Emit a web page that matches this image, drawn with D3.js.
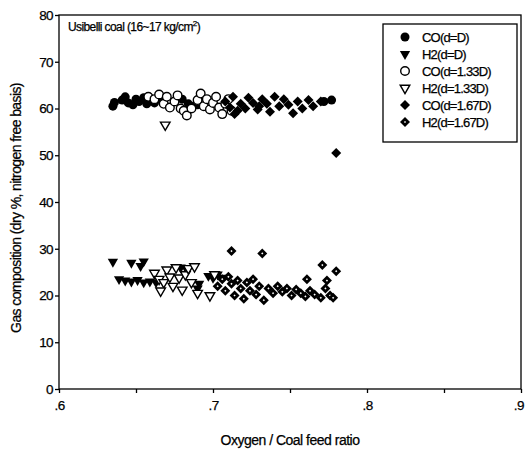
<!DOCTYPE html>
<html><head><meta charset="utf-8">
<script src="https://cdn.jsdelivr.net/npm/d3@7"></script>
<style>
body{margin:0;background:#fff;}
text{font-family:"Liberation Sans",Arial,sans-serif;fill:#000;stroke:#000;stroke-width:0.25px;}
</style></head>
<body><svg id="c" width="525" height="455"></svg>
<script>
// ---- data ----
const xTicks = [0.6, 0.7, 0.8, 0.9];
const xTickLabels = [".6", ".7", ".8", ".9"];
const yTicks = [0, 10, 20, 30, 40, 50, 60, 70, 80];

const CO_D = [[0.635,60.5],[0.636,61.3],[0.641,61.8],[0.643,62.5],[0.645,61.2],[0.648,60.8],[0.650,62.0],[0.652,61.5],[0.655,62.3],[0.657,61.0],[0.659,61.8],[0.662,61.2],[0.666,62.0],[0.680,62.0],[0.684,61.0],[0.687,60.5],[0.690,60.8],[0.772,61.5],[0.777,61.8]];
const H2_D = [[0.635,27.2],[0.647,27.0],[0.655,27.3],[0.653,26.3],[0.639,23.5],[0.643,23.2],[0.647,23.0],[0.651,23.3],[0.655,22.8],[0.659,23.0],[0.663,22.8],[0.679,26.0],[0.683,25.5],[0.690,21.5],[0.691,22.5],[0.697,24.2],[0.700,23.8],[0.703,24.5],[0.706,23.8]];
const CO_133 = [[0.658,62.5],[0.662,62.0],[0.665,63.0],[0.668,61.0],[0.670,62.5],[0.672,60.2],[0.675,61.5],[0.677,62.8],[0.679,60.0],[0.681,59.5],[0.683,58.5],[0.686,60.0],[0.690,61.8],[0.692,63.2],[0.694,60.5],[0.696,62.0],[0.698,59.8],[0.700,61.2],[0.702,62.5],[0.704,60.2],[0.706,58.8],[0.708,61.0],[0.710,62.0],[0.712,59.5]];
const H2_133 = [[0.669,56.5],[0.662,24.8],[0.665,23.5],[0.668,22.8],[0.670,25.5],[0.672,24.0],[0.674,22.0],[0.676,26.0],[0.678,23.8],[0.680,21.2],[0.682,24.5],[0.684,25.8],[0.686,22.8],[0.688,26.2],[0.690,20.5],[0.666,21.0],[0.698,20.0],[0.701,24.5]];
const CO_167 = [[0.708,61.5],[0.711,60.2],[0.713,62.5],[0.714,58.8],[0.716,59.5],[0.718,61.0],[0.721,60.0],[0.723,62.3],[0.726,61.2],[0.729,59.8],[0.730,60.5],[0.732,62.0],[0.735,61.0],[0.737,59.3],[0.740,62.5],[0.743,60.5],[0.746,62.0],[0.749,60.8],[0.752,59.0],[0.755,61.5],[0.758,60.0],[0.762,61.8],[0.765,60.5],[0.770,61.5],[0.780,50.5]];
const H2_167 = [[0.712,29.5],[0.732,29.0],[0.771,26.5],[0.780,25.2],[0.761,23.5],[0.774,23.2],[0.703,22.0],[0.706,23.5],[0.708,21.0],[0.710,24.0],[0.712,22.5],[0.714,20.0],[0.716,23.2],[0.718,21.5],[0.720,19.3],[0.722,22.8],[0.724,21.0],[0.726,23.5],[0.728,20.2],[0.730,22.0],[0.733,19.0],[0.736,21.5],[0.739,20.5],[0.742,22.0],[0.745,20.8],[0.748,21.5],[0.751,20.0],[0.754,21.3],[0.757,20.5],[0.760,19.8],[0.763,21.0],[0.766,20.2],[0.770,19.5],[0.773,21.5],[0.776,20.0],[0.778,19.5]];

const seriesNames = ["CO(d=D)","H2(d=D)","CO(d=1.33D)","H2(d=1.33D)","CO(d=1.67D)","H2(d=1.67D)"];
const seriesData = [CO_D, H2_D, CO_133, H2_133, CO_167, H2_167];
const seriesMarks = ["circleFill","triFill","circleOpen","triOpen","diaFill","diaDot"];

// ---- layout ----
const svg = d3.select("#c");
const W = 525;
const L = 59, R = 521, T = 15, B = 389;
const x = d3.scaleLinear().domain([0.6, 0.9]).range([L, R]);
const y = d3.scaleLinear().domain([0, 80]).range([B, T]);

// frame
svg.append("rect").attr("x", L).attr("y", T).attr("width", R - L).attr("height", B - T)
  .attr("fill", "none").attr("stroke", "#000").attr("stroke-width", 1.3);

// axes
const xAxis = d3.axisBottom(x).tickValues([0.6,0.65,0.7,0.75,0.8,0.85,0.9])
  .tickSize(4).tickFormat(d => { const i = xTicks.findIndex(t => Math.abs(t - d) < 1e-9); return i >= 0 ? xTickLabels[i] : ""; });
const gx = svg.append("g").attr("transform", `translate(0,${B})`).call(xAxis);
gx.select(".domain").remove();
gx.selectAll("text").attr("font-size", 13.5).attr("dy", "1.05em").style("letter-spacing", "-0.5px");
gx.selectAll("line").attr("stroke-width", 1.3);
// keep the last label inside the page
gx.selectAll(".tick text").each(function () {
  const bb = this.getBBox();
  const tr = this.parentNode.transform.baseVal.consolidate();
  const tx = tr ? tr.matrix.e : 0;
  const right = tx + bb.x + bb.width;
  if (right > W - 1) d3.select(this).attr("x", (W - 1) - right);
});

const yAxis = d3.axisLeft(y).tickValues(yTicks).tickSize(4).tickFormat(d3.format("d"));
const gy = svg.append("g").attr("transform", `translate(${L},0)`).call(yAxis);
gy.select(".domain").remove();
gy.selectAll("text").attr("font-size", 13.5).attr("x", -6).style("letter-spacing", "-0.6px");
gy.selectAll("line").attr("stroke-width", 1.3);

// titles
svg.append("text").attr("x", 290).attr("y", 445).attr("text-anchor", "middle")
  .attr("font-size", 14).style("letter-spacing", "-0.5px").text("Oxygen / Coal feed ratio");
svg.append("text").attr("transform", `translate(21,${(T + B) / 2 + 6}) rotate(-90)`).attr("text-anchor", "middle")
  .attr("font-size", 14).style("letter-spacing", "-0.6px").text("Gas composition (dry %, nitrogen free basis)");

const ann = svg.append("text").attr("x", 68).attr("y", 31).attr("font-size", 12).style("letter-spacing", "-0.6px");
ann.append("tspan").text("Usibelli coal (16~17 kg/cm");
ann.append("tspan").attr("font-size", 8).attr("dy", -5).text("2");
ann.append("tspan").attr("dy", 5).text(")");

// marker drawing
const triPath = d3.symbol().type(d3.symbolTriangle).size(46)();
const triPathL = d3.symbol().type(d3.symbolTriangle).size(40)();
const sqPath = d3.symbol().type(d3.symbolSquare).size(50)();
const sqSmall = d3.symbol().type(d3.symbolSquare).size(2.5)();

function drawMark(g, kind) {
  switch (kind) {
    case "circleFill": g.append("circle").attr("r", 4.5).attr("fill", "#000"); break;
    case "circleOpen": g.append("circle").attr("r", 4.3).attr("fill", "#fff").attr("stroke", "#000").attr("stroke-width", 1.4); break;
    case "triFill": g.append("path").attr("d", triPath).attr("transform", "rotate(180)").attr("fill", "#000"); break;
    case "triOpen": g.append("path").attr("d", triPathL).attr("transform", "rotate(180)").attr("fill", "#fff").attr("stroke", "#000").attr("stroke-width", 1.4); break;
    case "diaFill": g.append("path").attr("d", sqPath).attr("transform", "rotate(45)").attr("fill", "#000"); break;
    case "diaDot":
      g.append("path").attr("d", sqPath).attr("transform", "rotate(45)").attr("fill", "#000");
      g.append("path").attr("d", sqSmall).attr("transform", "rotate(45)").attr("fill", "#fff");
      break;
  }
}

seriesData.forEach((data, i) => {
  const g = svg.append("g");
  g.selectAll("g").data(data).join("g")
    .attr("transform", d => `translate(${x(d[0])},${y(d[1])})`)
    .each(function () { drawMark(d3.select(this), seriesMarks[i]); });
});

// legend
const lg = svg.append("g");
lg.append("rect").attr("x", 383).attr("y", 24).attr("width", 134).attr("height", 118)
  .attr("fill", "#fff").attr("stroke", "#000").attr("stroke-width", 1.3);
seriesNames.forEach((name, i) => {
  const yy = 37 + i * 17;
  const m = lg.append("g").attr("transform", `translate(405,${yy})`);
  drawMark(m, seriesMarks[i]);
  lg.append("text").attr("x", 422).attr("y", yy + 5).attr("font-size", 13)
    .style("letter-spacing", "-0.8px").text(name);
});
</script></body></html>
